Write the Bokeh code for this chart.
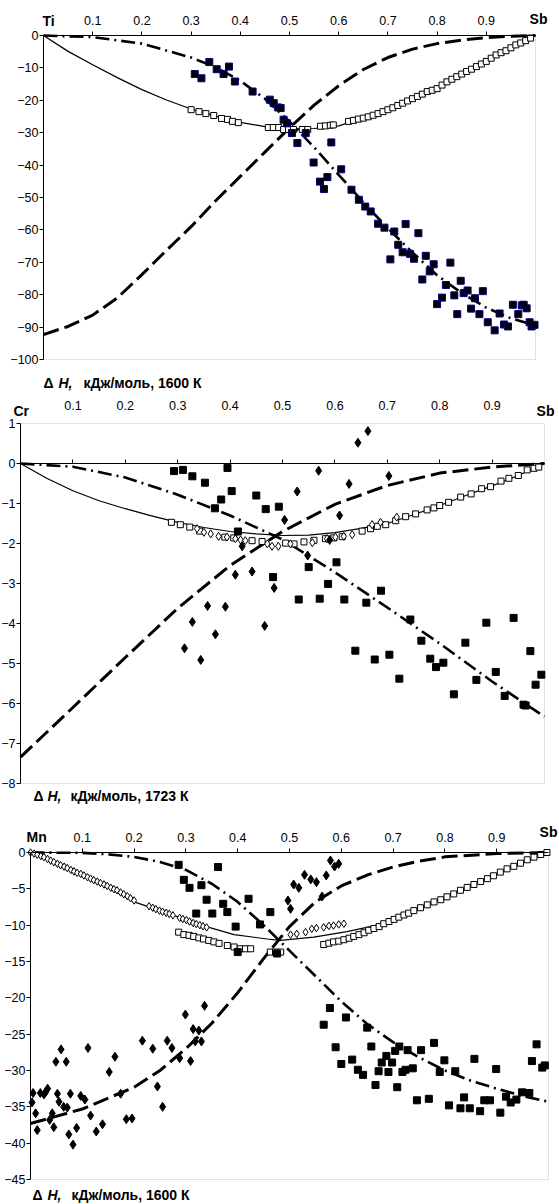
from bokeh.plotting import figure
from bokeh.models import Range1d, LinearAxis, FixedTicker, Label, BoxAnnotation
from bokeh.layouts import column
from bokeh.embed import file_html
from bokeh.resources import INLINE

FONT = "Liberation Sans"
X_TICKS = [0.1, 0.2, 0.3, 0.4, 0.5, 0.6, 0.7, 0.8, 0.9]
PAGE_W = 559

# ---------------- Panel 1 : Ti - Sb, 1600 K ----------------
p1_dd_x = [0, 0.1, 0.2, 0.3, 0.35, 0.4, 0.45, 0.5, 0.55, 0.6, 0.65, 0.7, 0.75, 0.8, 0.85, 0.9, 0.95, 1.0]
p1_dd_y = [0, -0.5, -2.5, -6.8, -9.8, -14, -19.5, -26.5, -34.5, -43, -51.5, -59.5, -67, -74, -79.5, -84, -87.3, -89.5]

p1_da_x = [0, 0.05, 0.1, 0.15, 0.2, 0.25, 0.3, 0.35, 0.4, 0.45, 0.5, 0.55, 0.6, 0.65, 0.7, 0.75, 0.8, 0.85, 0.9, 0.95, 1.0]
p1_da_y = [-92.3, -89.8, -86.3, -81, -73.8, -66.3, -59, -51, -43.5, -36, -28.5, -21.5, -15.5, -10.5, -6.8, -4.2, -2.5, -1.4, -0.7, -0.2, 0]

p1_so_x = [0, 0.05, 0.1, 0.15, 0.2, 0.25, 0.3, 0.35, 0.4, 0.45, 0.5, 0.55, 0.6, 0.65, 0.7, 0.75, 0.8, 0.85, 0.9, 0.95, 1.0]
p1_so_y = [0, -4.9, -9, -13, -16.7, -19.9, -22.7, -24.9, -26.8, -28.1, -28.8, -28.7, -27.9, -25.5, -22.9, -19.5, -16.4, -11.9, -8.0, -3.8, 0]

p1_open_x = [0.300, 0.316, 0.330, 0.346, 0.362, 0.374, 0.384, 0.396,
             0.457, 0.467, 0.478, 0.488, 0.498, 0.508, 0.526, 0.537,
             0.563, 0.573, 0.583, 0.589,
             0.62, 0.63, 0.64, 0.65, 0.66, 0.67, 0.68, 0.69, 0.70, 0.71,
             0.72, 0.73, 0.74, 0.75, 0.76, 0.77, 0.78, 0.79, 0.80, 0.81,
             0.82, 0.83, 0.84, 0.85, 0.86, 0.87, 0.88, 0.89, 0.90, 0.91,
             0.92, 0.93, 0.94, 0.95, 0.96, 0.97, 0.98, 0.99]
p1_open_y = [-22.9, -23.5, -24.1, -24.7, -25.6, -25.9, -26.5, -26.9,
             -28.4, -28.4, -28.4, -29.0, -29.0, -29.0, -29.0, -29.0,
             -28.0, -27.9, -27.7, -27.6,
             -26.5, -26.2, -25.8, -25.5, -25.1, -24.6, -24.1, -23.5, -22.9, -22.3,
             -21.6, -20.9, -20.2, -19.5, -18.8, -18.1, -17.3, -16.9, -16.4, -15.3,
             -14.3, -13.5, -12.7, -11.9, -11.1, -10.4, -9.6, -8.8, -8.0, -7.0,
             -6.0, -5.3, -4.7, -3.8, -2.9, -2.3, -1.6, -0.8]

p1_fill_x = [0.3075, 0.321, 0.337, 0.352, 0.366, 0.377, 0.389, 0.425, 0.46, 0.468, 0.477,
             0.482, 0.488, 0.495, 0.505, 0.516, 0.533, 0.549, 0.562, 0.57, 0.577, 0.585,
             0.605, 0.626, 0.641, 0.654, 0.665, 0.68, 0.693, 0.713, 0.736, 0.762, 0.721,
             0.73, 0.745, 0.753, 0.777, 0.793, 0.785, 0.827, 0.705, 0.77, 0.818, 0.848,
             0.81, 0.80, 0.835, 0.854, 0.862, 0.877, 0.893, 0.869, 0.886, 0.841, 0.903,
             0.917, 0.927, 0.936, 0.944, 0.954, 0.965, 0.972, 0.982, 0.988, 0.992, 0.998, 0.976]
p1_fill_y = [-11.9, -13.2, -8.2, -10.4, -11.9, -9.6, -14.2, -17.3, -19.8, -20.9, -22.2,
             -22.4, -26, -27.1, -30.1, -33.2, -30.1, -39.2, -45.1, -47.4, -43.7, -33,
             -41.3, -47.6, -50.7, -52.8, -54.3, -58.1, -59.3, -60.5, -58.2, -61, -64.6,
             -66.9, -67.4, -68.9, -68, -70.6, -72.8, -70.1, -69.1, -75.3, -77, -75.7,
             -80.9, -82.9, -80.2, -79.5, -78.7, -81.1, -78.9, -84.3, -86, -86, -88.5,
             -91, -85.8, -89.2, -89.8, -83.1, -86, -83.3, -84.2, -88.5, -89.8, -89.3, -83.1]
p1_y_ticks = [0, -10, -20, -30, -40, -50, -60, -70, -80, -90, -100]

# ---------------- Panel 2 : Cr - Sb, 1723 K ----------------
p2_dd_x = [0, 0.1, 0.2, 0.3, 0.4, 0.5, 0.6, 0.7, 0.8, 0.9, 1.0]
p2_dd_y = [0, -0.08, -0.35, -0.78, -1.3, -1.9, -2.72, -3.6, -4.5, -5.45, -6.33]

p2_da_x = [0, 0.1, 0.2, 0.3, 0.4, 0.5, 0.6, 0.7, 0.8, 0.9, 1.0]
p2_da_y = [-7.34, -6.1, -4.85, -3.62, -2.55, -1.7, -1.02, -0.55, -0.24, -0.09, 0]

p2_so_x = [0, 0.05, 0.1, 0.15, 0.2, 0.25, 0.3, 0.35, 0.4, 0.45, 0.5, 0.55, 0.6, 0.65, 0.7, 0.75, 0.8, 0.85, 0.9, 0.95, 1.0]
p2_so_y = [0, -0.37, -0.68, -0.93, -1.13, -1.31, -1.47, -1.6, -1.7, -1.76, -1.8, -1.79, -1.73, -1.62, -1.5, -1.28, -1.05, -0.8, -0.56, -0.3, 0]

p2_open_x = [0.288, 0.305, 0.323, 0.342, 0.39, 0.407, 0.442, 0.461,
             0.506, 0.522, 0.541, 0.56, 0.582, 0.598, 0.614, 0.652, 0.668, 0.681, 0.697, 0.716,
             0.735, 0.754, 0.776, 0.789, 0.80, 0.817, 0.84, 0.86, 0.88, 0.897, 0.917, 0.932,
             0.95, 0.967, 0.98, 0.989]
p2_open_y = [-1.47, -1.53, -1.59, -1.69, -1.84, -1.86, -1.93, -1.95,
             -1.99, -2.01, -1.96, -1.92, -1.88, -1.86, -1.83, -1.69, -1.63, -1.57, -1.53, -1.43,
             -1.33, -1.26, -1.16, -1.11, -1.05, -0.97, -0.84, -0.76, -0.63, -0.58, -0.44, -0.37,
             -0.3, -0.16, -0.12, -0.09]

p2_odia_x = [0.337, 0.35, 0.363, 0.378, 0.394, 0.41, 0.42, 0.429, 0.471, 0.48, 0.492, 0.515,
             0.557, 0.585, 0.601, 0.617, 0.633, 0.671, 0.687, 0.718]
p2_odia_y = [-1.63, -1.72, -1.76, -1.82, -1.84, -1.88, -1.91, -1.93, -2.01, -2.07, -2.07, -2.01,
             -1.98, -1.88, -1.84, -1.82, -1.78, -1.53, -1.47, -1.34]

p2_fsq_x = [0.293, 0.31, 0.328, 0.352, 0.395, 0.403, 0.383, 0.371, 0.45, 0.468, 0.493, 0.415,
            0.482, 0.55, 0.603, 0.587, 0.531, 0.571, 0.618, 0.66, 0.688, 0.744, 0.765, 0.639,
            0.676, 0.704, 0.723, 0.782, 0.793, 0.807, 0.827, 0.849, 0.87, 0.889, 0.907, 0.924,
            0.941, 0.96, 0.964, 0.973, 0.983, 0.994]
p2_fsq_y = [-0.19, -0.16, -0.32, -0.48, -0.11, -0.69, -0.9, -1.12, -0.8, -1.14, -1.08, -1.7,
            -2.84, -2.59, -2.47, -3.01, -3.4, -3.38, -3.4, -3.48, -3.18, -3.9, -4.43, -4.68,
            -4.9, -4.78, -5.38, -4.88, -5.09, -4.98, -5.77, -4.48, -5.41, -3.98, -5.21, -5.81,
            -3.86, -6.03, -6.05, -4.69, -5.53, -5.28]

p2_fdia_x = [0.423, 0.41, 0.442, 0.644, 0.663, 0.569, 0.627, 0.703, 0.528, 0.504, 0.609,
             0.548, 0.59, 0.313, 0.328, 0.344, 0.357, 0.372, 0.391, 0.466, 0.484]
p2_fdia_y = [-2.07, -2.78, -2.7, 0.52, 0.81, -0.18, -0.51, -0.31, -0.7, -1.41, -1.3,
             -2.3, -1.91, -4.62, -3.96, -4.91, -3.56, -4.27, -3.58, -4.06, -3.11]
p2_y_ticks = [1, 0, -1, -2, -3, -4, -5, -6, -7, -8]

# ---------------- Panel 3 : Mn - Sb, 1600 K ----------------
p3_dd_x = [0, 0.1, 0.15, 0.2, 0.25, 0.3, 0.35, 0.4, 0.45, 0.5, 0.55, 0.6, 0.65, 0.7, 0.75, 0.8, 0.85, 0.9, 0.95, 1.0]
p3_dd_y = [0, -0.05, -0.25, -0.6, -1.3, -2.4, -4.3, -6.8, -10.0, -13.5, -17.0, -20.5, -23.6, -26.1, -28.2, -30.0, -31.4, -32.5, -33.5, -34.3]

p3_da_x = [0, 0.1, 0.2, 0.25, 0.3, 0.35, 0.4, 0.45, 0.5, 0.55, 0.6, 0.65, 0.7, 0.75, 0.8, 0.9, 1.0]
p3_da_y = [-37.3, -35.3, -32.3, -30, -27, -23.5, -19.3, -14.6, -10.2, -6.8, -4.6, -3.1, -2.0, -1.2, -0.6, -0.15, 0]

p3_so_x = [0, 0.071, 0.135, 0.2, 0.264, 0.328, 0.393, 0.457, 0.483, 0.547, 0.611, 0.676, 0.74, 0.804, 0.869, 0.933, 1.0]
p3_so_y = [0, -2.15, -4.2, -6.8, -8.35, -9.95, -11.3, -11.9, -12.1, -11.65, -10.9, -9.9, -8.0, -6.1, -4.0, -1.9, 0]

p3_odia_x = [0.000, 0.007, 0.013, 0.020, 0.026, 0.033, 0.039, 0.045, 0.052, 0.058, 0.065, 0.071,
             0.078, 0.084, 0.090, 0.097, 0.103, 0.110, 0.116, 0.122, 0.129, 0.135, 0.142, 0.148,
             0.155, 0.161, 0.167, 0.174, 0.180, 0.187, 0.193, 0.200,
             0.229, 0.236, 0.242, 0.249, 0.255, 0.262, 0.268, 0.275,
             0.288, 0.294, 0.301, 0.307, 0.314, 0.320, 0.327, 0.333, 0.340,
             0.502, 0.514, 0.531, 0.543, 0.552, 0.566, 0.576, 0.585, 0.595, 0.605]
p3_odia_y = [0, -0.15, -0.3, -0.48, -0.64, -0.9, -1.12, -1.33, -1.55, -1.75, -1.95, -2.15,
             -2.4, -2.6, -2.8, -2.95, -3.16, -3.4, -3.6, -3.8, -4.0, -4.2, -4.4, -4.6,
             -4.85, -5.05, -5.2, -5.5, -5.75, -6.0, -6.3, -6.6,
             -7.4, -7.6, -7.8, -8.0, -8.15, -8.3, -8.45, -8.65,
             -9.0, -9.15, -9.3, -9.5, -9.7, -9.85, -10.0, -10.15, -10.3,
             -11.3, -11.2, -10.96, -10.5, -10.4, -10.3, -10.1, -10.05, -9.9, -9.8]

p3_open_x = [0.286, 0.296, 0.306, 0.315, 0.325, 0.334, 0.344, 0.354, 0.364, 0.38, 0.393, 0.405,
             0.415, 0.425, 0.463, 0.473, 0.483,
             0.566, 0.576, 0.585, 0.595, 0.605, 0.615, 0.624, 0.634, 0.644, 0.653, 0.663, 0.673,
             0.682, 0.692, 0.702, 0.711, 0.721, 0.73, 0.74, 0.753, 0.766, 0.779, 0.792, 0.804,
             0.817, 0.83, 0.843, 0.856, 0.869, 0.882, 0.894, 0.907, 0.92, 0.933, 0.946, 0.959,
             0.972, 0.985, 0.997]
p3_open_y = [-10.96, -11.3, -11.4, -11.55, -11.75, -11.9, -12.1, -12.3, -12.5, -12.8, -13.0, -13.25,
             -13.25, -13.25, -13.7, -13.7, -13.7,
             -12.66, -12.48, -12.3, -12.2, -12.0, -11.8, -11.55, -11.3, -11.05, -10.7, -10.46, -10.2,
             -9.8, -9.5, -9.2, -8.9, -8.6, -8.35, -8.0, -7.6, -7.2, -6.8, -6.5, -6.1,
             -5.7, -5.2, -4.8, -4.4, -4.0, -3.6, -3.2, -2.7, -2.25, -1.9, -1.47, -1.0,
             -0.64, -0.28, 0]

p3_fsq_x = [0.286, 0.296, 0.307, 0.33, 0.362, 0.34, 0.32, 0.351, 0.372, 0.38, 0.396, 0.421,
            0.443, 0.463, 0.4, 0.476,
            0.578, 0.566, 0.609, 0.65, 0.589, 0.6, 0.621, 0.632, 0.642, 0.658, 0.666, 0.672,
            0.678, 0.687, 0.691, 0.698, 0.704, 0.708, 0.712, 0.718, 0.724, 0.728, 0.738, 0.746,
            0.754, 0.769, 0.779, 0.79, 0.799, 0.808, 0.82, 0.83, 0.837, 0.848, 0.857, 0.868,
            0.876, 0.887, 0.899, 0.907, 0.918, 0.927, 0.938, 0.949, 0.963, 0.968, 0.977, 0.988, 0.993]
p3_fsq_y = [-1.7, -3.76, -4.86, -4.5, -2.0, -6.5, -8.4, -8.4, -7.06, -8.2, -10.2, -6.37,
            -9.9, -8.2, -13.7, -13.9,
            -21.4, -23.7, -22.7, -24.1, -26.8, -29.1, -28.5, -29.9, -30.6, -26.7, -32, -30.1,
            -28.9, -28, -30.2, -28.9, -27.3, -32.3, -26.7, -30.2, -29.9, -27.2, -29.7, -34.1,
            -27.2, -33.9, -26.2, -30.2, -28.6, -34.8, -30.1, -35.2, -33.7, -35.2, -28.4, -35.6,
            -34.1, -34.1, -29.8, -35.8, -33.6, -34.4, -34, -33, -33.1, -28.7, -26.4, -29.6, -29.3]

p3_fdia_x = [0.003, 0.005, 0.01, 0.013, 0.019, 0.026, 0.029, 0.033, 0.037, 0.042, 0.045, 0.049,
             0.052, 0.055, 0.059, 0.064, 0.069, 0.071, 0.074, 0.077, 0.082, 0.089, 0.097, 0.105,
             0.111, 0.116, 0.127, 0.139, 0.152, 0.163, 0.174, 0.185, 0.196, 0.216, 0.236, 0.245,
             0.255, 0.264, 0.273, 0.288, 0.299, 0.309, 0.314, 0.318, 0.325, 0.33, 0.336,
             0.497, 0.502, 0.508, 0.518, 0.529, 0.541, 0.552, 0.571, 0.579, 0.587, 0.595, 0.563]
p3_fdia_y = [-34.4, -33.1, -35.9, -38.2, -33.1, -33.3, -33, -32.5, -36.8, -35.9, -37.8, -28.8,
             -33.2, -34.3, -27.1, -35, -28.8, -35.1, -38.8, -33.2, -40.2, -37.9, -33.5, -34,
             -26.9, -36.2, -38.4, -37.4, -30.2, -28.1, -33.2, -36.7, -36.6, -25.9, -27, -32.2,
             -35, -25.9, -26.9, -28.3, -22.3, -28.7, -24.3, -26, -24.5, -26, -21.1,
             -6.6, -7.75, -4.4, -4.86, -3.07, -3.7, -4.08, -3.16, -1.1, -1.93, -1.56, -6.05]
p3_y_ticks = [0, -5, -10, -15, -20, -25, -30, -35, -40, -45]


class Panel:
    """Figure whose frame fills it; the data box (0..1, ymin..ymax) is placed at given pixels."""

    def __init__(self, height, ymin, ymax, box_left, box_right, box_top, box_bottom):
        self.ymin, self.ymax = ymin, ymax
        self.bl, self.bt = box_left, box_top
        self.kx = box_right - box_left
        self.ky = (box_bottom - box_top) / (ymax - ymin)
        self.p = figure(width=PAGE_W, height=height,
                        x_range=Range1d(self.dx(0), self.dx(PAGE_W)),
                        y_range=Range1d(self.dy(height), self.dy(0)),
                        output_backend="svg", toolbar_location=None,
                        x_axis_type=None, y_axis_type=None,
                        min_border=0, min_border_left=0, min_border_right=0,
                        min_border_top=0, min_border_bottom=0)
        p = self.p
        p.outline_line_color = None
        p.background_fill_color = "white"
        p.border_fill_color = "white"
        p.add_layout(BoxAnnotation(left=0, right=1, bottom=ymin, top=ymax, fill_color=None,
                                   line_color="#9a9a9a", line_width=1, level="underlay"))

    def dx(self, px):
        return (px - self.bl) / self.kx

    def dy(self, py):
        return self.ymax - (py - self.bt) / self.ky

    def label(self, px, py, text, size="14px", style="bold", align="left"):
        self.p.add_layout(Label(x=self.dx(px), y=self.dy(py), text=text, text_font=FONT,
                                text_font_size=size, text_font_style=style, text_align=align,
                                text_baseline="middle", text_color="black"))


def y_axis(pan, ticks):
    ax = LinearAxis(ticker=FixedTicker(ticks=ticks, minor_ticks=[]), fixed_location=0,
                    bounds=(pan.ymin, pan.ymax))
    ax.axis_line_color = "black"
    ax.major_tick_line_color = "black"
    ax.major_tick_out = 4
    ax.major_tick_in = 0
    ax.minor_tick_line_color = None
    ax.major_label_standoff = 1
    ax.major_label_text_font = FONT
    ax.major_label_text_font_size = "12.5px"
    ax.major_label_text_color = "black"
    pan.p.add_layout(ax, "left")


def x_axis(pan, at, line=True, labels=True, standoff=7):
    ax = LinearAxis(ticker=FixedTicker(ticks=X_TICKS, minor_ticks=[]), fixed_location=at,
                    bounds=(0, 1))
    ax.minor_tick_line_color = None
    ax.major_label_text_font = FONT
    ax.major_label_text_font_size = "12.5px"
    ax.major_label_text_color = "black" if labels else None
    ax.major_label_standoff = standoff
    if line:
        ax.axis_line_color = "black"
        ax.major_tick_line_color = "black"
        ax.major_tick_out = 4
        ax.major_tick_in = 0
    else:
        ax.axis_line_color = None
        ax.major_tick_line_color = None
        ax.major_tick_out = 0
        ax.major_tick_in = 0
    pan.p.add_layout(ax, "above")


def draw_lines(p, dd, da, so):
    p.line(so[0], so[1], line_color="black", line_width=1.2)
    p.line(da[0], da[1], line_color="black", line_width=3, line_dash="16 6")
    p.line(dd[0], dd[1], line_color="black", line_width=2.6, line_dash="14 5 2 5")


# ---- Panel 1 (page rows 0..396)
P1 = Panel(396, -100, 0, 43, 535, 35, 359)
p1 = P1.p
y_axis(P1, p1_y_ticks)
x_axis(P1, 0)
draw_lines(p1, (p1_dd_x, p1_dd_y), (p1_da_x, p1_da_y), (p1_so_x, p1_so_y))
p1.scatter(p1_open_x, p1_open_y, marker="square", size=6, fill_color="white", line_color="black", line_width=1)
p1.scatter(p1_fill_x, p1_fill_y, marker="square", size=7, fill_color="black", line_color="#000080", line_width=1)
P1.label(42, 20, "Ti")
P1.label(547, 18, "Sb", align="right")
P1.label(43, 382, "Δ")
P1.label(58, 382, "H,", style="bold italic")
P1.label(83, 382, "кДж/моль, 1600  К")

# ---- Panel 2 (page rows 396..820)
P2 = Panel(424, -8, 1, 20, 544, 423 - 396, 783 - 396)
p2 = P2.p
y_axis(P2, p2_y_ticks)
x_axis(P2, 1, line=False, labels=True, standoff=14)
x_axis(P2, 0, line=True, labels=False)
draw_lines(p2, (p2_dd_x, p2_dd_y), (p2_da_x, p2_da_y), (p2_so_x, p2_so_y))
p2.scatter(p2_open_x, p2_open_y, marker="square", size=6, fill_color="white", line_color="black", line_width=1)
p2.scatter(p2_odia_x, p2_odia_y, marker="diamond", size=8, fill_color="white", line_color="black", line_width=1)
p2.scatter(p2_fsq_x, p2_fsq_y, marker="square", size=7, fill_color="black", line_color="black")
p2.scatter(p2_fdia_x, p2_fdia_y, marker="diamond", size=9, fill_color="black", line_color="black")
P2.label(13, 410 - 396, "Cr")
P2.label(554, 410 - 396, "Sb", align="right")
P2.label(33, 795 - 396, "Δ")
P2.label(47, 795 - 396, "H,", style="bold italic")
P2.label(70, 795 - 396, "кДж/моль, 1723  К")

# ---- Panel 3 (page rows 820..1204)
P3 = Panel(384, -45, 0, 30, 548, 852 - 820, 1179 - 820)
p3 = P3.p
y_axis(P3, p3_y_ticks)
x_axis(P3, 0)
draw_lines(p3, (p3_dd_x, p3_dd_y), (p3_da_x, p3_da_y), (p3_so_x, p3_so_y))
p3.scatter(p3_open_x, p3_open_y, marker="square", size=6, fill_color="white", line_color="black", line_width=1)
p3.scatter(p3_odia_x, p3_odia_y, marker="diamond", size=7.5, fill_color="white", line_color="black", line_width=1)
p3.scatter(p3_fsq_x, p3_fsq_y, marker="square", size=7, fill_color="black", line_color="black")
p3.scatter(p3_fdia_x, p3_fdia_y, marker="diamond", size=9, fill_color="black", line_color="black")
P3.label(26, 836 - 820, "Mn")
P3.label(557, 831 - 820, "Sb", align="right")
P3.label(32, 1194 - 820, "Δ")
P3.label(47, 1194 - 820, "H,", style="bold italic")
P3.label(71, 1194 - 820, "кДж/моль, 1600  К")

layout = column(p1, p2, p3, spacing=0)
open("out.html", "w").write(file_html(layout, INLINE))
